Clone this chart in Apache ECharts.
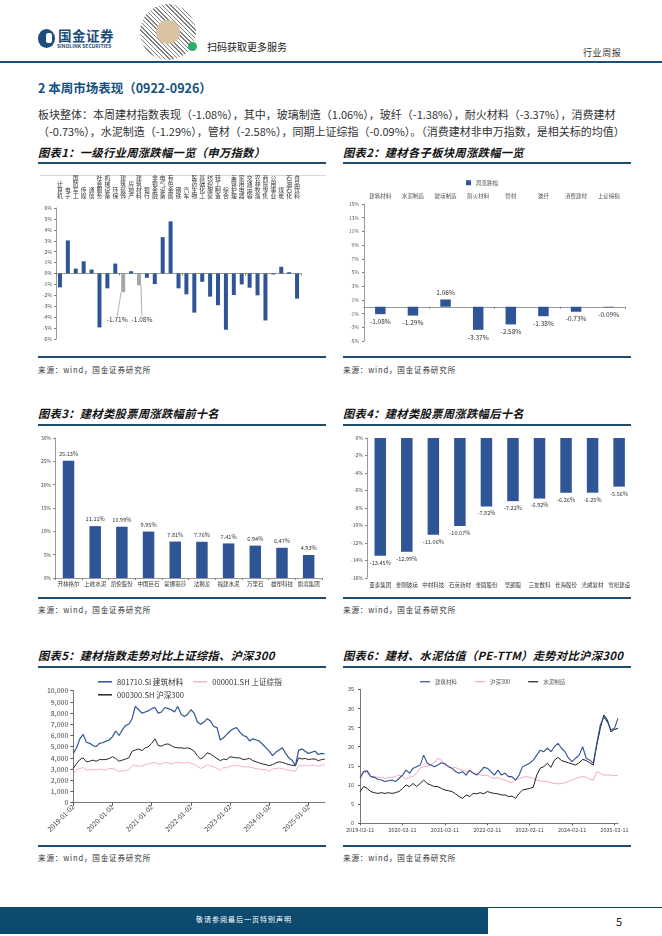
<!DOCTYPE html>
<html><head><meta charset="utf-8">
<script src="https://cdn.jsdelivr.net/npm/echarts@6.0.0/dist/echarts.min.js"></script>
<style>
body{margin:0;width:662px;height:936px;position:relative;background:#fff;font-family:"Noto Sans CJK SC","Noto Sans",sans-serif;overflow:hidden;color:#333}
.a{position:absolute;white-space:nowrap}
.rule{position:absolute;height:1.5px;background:#1d4e6f}
.ttl{position:absolute;white-space:nowrap;font-size:11.3px;font-weight:bold;font-style:italic;color:#111;letter-spacing:0.3px}
.src{position:absolute;white-space:nowrap;font-size:7.6px;color:#333;letter-spacing:0.8px}
.ch{position:absolute}
</style></head><body>
<!-- header -->
<div class="a" style="left:38px;top:29px;width:17px;height:19px;border-radius:50%;background:#1d4e7a"></div>
<div class="a" style="left:46px;top:33px;width:6px;height:10px;border-radius:2px;background:#fff"></div>
<div class="a" style="left:58px;top:25px;font-size:13.5px;font-weight:bold;color:#1d4e7a;letter-spacing:0.5px">国金证券</div>
<div class="a" style="left:57px;top:42px;font-size:5px;font-weight:bold;color:#1d4e7a">SINOLINK SECURITIES</div>
<div class="a" style="left:140px;top:4px;width:56px;height:56px;border-radius:50%;background:repeating-linear-gradient(45deg,#555 0 1px,#fff 1px 3px),#fff;opacity:0.75"></div>
<div class="a" style="left:156px;top:20px;width:24px;height:24px;border-radius:50%;background:#d9c3a0"></div>
<div class="a" style="left:188px;top:42px;width:9px;height:9px;border-radius:50%;background:#2aae67"></div>
<div class="a" style="left:207px;top:39px;font-size:10px;color:#222">扫码获取更多服务</div>
<div class="a" style="left:583px;top:46px;font-size:9px;color:#333;letter-spacing:0.6px">行业周报</div>
<div class="a" style="left:0;top:61px;width:662px;height:2px;background:#1d4e6f"></div>

<div class="a" style="left:38px;top:78px;font-size:12.5px;font-weight:bold;color:#16507e">2 本周市场表现（0922-0926）</div>
<div class="a" style="left:38px;top:106px;font-size:11px;color:#333">板块整体：本周建材指数表现（-1.08%），其中，玻璃制造（1.06%），玻纤（-1.38%），耐火材料（-3.37%），消费建材</div>
<div class="a" style="left:38px;top:123px;font-size:11px;color:#333">（-0.73%），水泥制造（-1.29%），管材（-2.58%），同期上证综指（-0.09%）。（消费建材非申万指数，是相关标的均值）</div>

<div class="ttl" style="left:38px;top:144px">图表1：一级行业周涨跌幅一览（申万指数）</div>
<div class="ttl" style="left:343px;top:144px">图表2：建材各子板块周涨跌幅一览</div>
<div class="rule" style="left:38px;top:162px;width:288px"></div>
<div class="rule" style="left:343px;top:162px;width:288px"></div>
<div class="a" style="left:40px;top:175px;width:286px;height:1px;background:#d8d8d8"></div>
<div id="c1" class="ch" style="left:38px;top:170px;width:290px;height:182px"></div>
<div id="c2" class="ch" style="left:343px;top:170px;width:290px;height:182px"></div>
<div class="rule" style="left:38px;top:356px;width:288px"></div>
<div class="rule" style="left:343px;top:356px;width:288px"></div>
<div class="src" style="left:38px;top:364px">来源：wind，国金证券研究所</div>
<div class="src" style="left:343px;top:364px">来源：wind，国金证券研究所</div>

<div class="ttl" style="left:38px;top:405px">图表3：建材类股票周涨跌幅前十名</div>
<div class="ttl" style="left:343px;top:405px">图表4：建材类股票周涨跌幅后十名</div>
<div class="rule" style="left:38px;top:424px;width:288px"></div>
<div class="rule" style="left:343px;top:424px;width:288px"></div>
<div id="c3" class="ch" style="left:38px;top:428px;width:290px;height:168px"></div>
<div id="c4" class="ch" style="left:343px;top:428px;width:290px;height:168px"></div>
<div class="rule" style="left:38px;top:597px;width:288px"></div>
<div class="rule" style="left:343px;top:597px;width:288px"></div>
<div class="src" style="left:38px;top:604px">来源：wind，国金证券研究所</div>
<div class="src" style="left:343px;top:604px">来源：wind，国金证券研究所</div>

<div class="ttl" style="left:38px;top:647px">图表5：建材指数走势对比上证综指、沪深300</div>
<div class="ttl" style="left:343px;top:647px">图表6：建材、水泥估值（PE-TTM）走势对比沪深300</div>
<div class="rule" style="left:38px;top:666px;width:288px"></div>
<div class="rule" style="left:343px;top:666px;width:288px"></div>
<div id="c5" class="ch" style="left:38px;top:670px;width:290px;height:174px"></div>
<div id="c6" class="ch" style="left:343px;top:670px;width:290px;height:174px"></div>
<div class="rule" style="left:38px;top:845px;width:288px"></div>
<div class="rule" style="left:343px;top:845px;width:288px"></div>
<div class="src" style="left:38px;top:852px">来源：wind，国金证券研究所</div>
<div class="src" style="left:343px;top:852px">来源：wind，国金证券研究所</div>

<!-- footer -->
<div class="a" style="left:0;top:907px;width:488px;height:27px;background:#0e4a6e"></div>
<div class="a" style="left:488px;top:907px;width:174px;height:1px;background:#0e4a6e"></div>
<div class="a" style="left:0;top:914px;width:488px;text-align:center;font-size:7px;color:#fff;letter-spacing:1px">敬请参阅最后一页特别声明</div>
<div class="a" style="left:616px;top:913px;font-size:11px;color:#222">5</div>

<script>
// ---------- DATA ----------
const industryNames = ['计算机','电子','国防军工','传媒','通信','社会服务','机械设备','环保','建筑装饰','房地产','建筑材料','银行','非银金融','电气设备','有色金属','钢铁','汽车','医药生物','基础化工','纺织服装','轻工制造','综合','美容护理','家用电器','交通运输','农林牧渔','商贸零售','公用事业','煤炭','石油石化','食品饮料'];
const industryChg = [-1.27,3.03,0.45,1.12,0.36,-4.94,-1.36,0.91,-1.71,0.21,-1.08,-0.39,-0.97,3.33,4.78,-1.36,-1.91,-3.58,-0.76,-2.12,-2.91,-5.15,-1.97,-1.00,-1.30,-2.00,-4.30,-0.09,0.61,0.12,-2.30];
const highlightIndustries = ['建筑装饰','建筑材料'];

const subSectors = ['建筑材料','水泥制造','玻璃制造','耐火材料','管材','玻纤','消费建材','上证综指'];
const subSectorChg = [-1.08,-1.29,1.06,-3.37,-2.58,-1.38,-0.73,-0.09];
const subSectorTicks = [-5,-3,-1,1,3,5,7,9,11,13,15];

const topStocks = ['开林格尔','上峰水泥','凯伦股份','中国巨石','蒙娜丽莎','法狮龙','福建水泥','万里石','雄塑科技','旗滨集团'];
const topChg = [25.13,11.11,10.99,9.95,7.81,7.76,7.41,6.94,6.47,4.93];

const bottomStocks = ['亚泰集团','金刚玻璃','中材科技','石英新材','金圆股份','坚朗股','三友数科','长海股份','光威复材','雪松建设'];
const bottomChg = [-13.45,-12.99,-11.06,-10.07,-7.82,-7.22,-6.92,-6.26,-6.25,-5.56];

// chart 5 : monthly 2019-01 .. 2025-06
const idxDates = [];
for (let y = 2019; y <= 2025; y++) for (let m = 1; m <= 12; m++) { if (y === 2025 && m > 6) break; idxDates.push(y + '-' + String(m).padStart(2,'0') + '-02'); }
const jcIndex = [4400,4900,5700,6100,5400,5300,5100,5000,5300,5350,5500,5600,5900,6400,6000,6500,6900,7000,7500,8600,8300,8000,8100,8200,8400,8500,8000,8100,8500,8400,8300,8100,8600,7900,7700,7900,8300,8000,7200,7000,7200,7500,7300,6800,6700,5600,5800,6100,6400,6600,6700,6300,6000,5900,5500,5700,5600,5500,5200,4900,4600,4200,4500,4700,4900,4400,4000,3800,3300,4700,4800,4600,4400,4500,4600,4300,4400,4350];
const szIndex = [2550,2950,3050,3150,2900,2950,2950,2900,3000,2950,2900,3050,3050,2950,2750,2850,2850,2950,3300,3350,3250,3300,3400,3450,3550,3600,3450,3450,3600,3550,3450,3550,3600,3550,3550,3600,3500,3450,3250,3050,3200,3400,3250,3200,3050,2900,3150,3100,3250,3300,3300,3300,3200,3200,3200,3100,3050,3000,2950,2950,2800,3000,3050,3100,3050,2950,2900,2850,2800,3300,3300,3350,3250,3350,3350,3250,3350,3400];
const hs300Index = [3050,3500,3850,4000,3650,3700,3800,3700,3850,3850,3850,3950,4100,3950,3700,3800,3900,4000,4600,4700,4800,4650,4900,5000,5300,5700,5100,5050,5200,5250,5100,4950,4900,4900,4850,4900,4800,4600,4200,3900,4100,4450,4350,4150,3950,3750,3900,3850,4100,4050,4000,4000,3850,3900,3950,3750,3650,3550,3450,3400,3300,3400,3550,3650,3600,3500,3400,3350,3300,4000,3900,3950,3850,3900,3900,3750,3850,3900];

// chart 6 : monthly 2019-02 .. 2025-03
const peDates = [];
for (let y = 2019; y <= 2025; y++) for (let m = 1; m <= 12; m++) { if (y === 2019 && m < 2) continue; if (y === 2025 && m > 3) break; peDates.push(y + '-' + String(m).padStart(2,'0') + '-11'); }
const peJc = [11.8,13.5,13.7,12.2,12.0,11.5,11.3,10.9,11.1,11.3,10.9,11.7,12.6,13.9,13.1,14.4,14.8,15.2,17.8,15.7,15.2,14.8,15.2,15.8,15.5,14.8,14.4,13.5,13.1,13.5,12.6,13.9,13.1,12.6,13.5,14.6,14.4,13.5,12.6,13.9,12.6,13.1,12.2,12.2,11.3,12.6,14.8,15.2,15.7,16.5,17.8,19.1,18.7,19.6,18.7,20.0,20.9,19.6,18.7,17.0,16.1,17.0,17.8,20.0,17.0,16.5,15.7,20.9,25.7,27.8,26.5,24.4,24.8,27.4];
const peHs300 = [12.0,13.5,13.1,12.2,12.2,12.0,12.0,11.7,11.9,12.0,12.2,12.6,12.3,11.5,12.0,12.3,13.1,14.4,14.8,15.0,15.2,15.8,17.0,16.5,15.5,15.0,14.4,14.6,14.1,13.9,13.5,13.5,13.2,13.1,12.6,12.4,12.6,12.0,11.7,12.0,11.5,11.3,10.9,10.6,11.3,11.7,12.0,12.2,12.0,11.7,11.3,11.1,10.9,10.9,10.6,10.4,10.3,10.4,10.6,10.9,11.3,11.7,12.0,12.2,12.0,11.5,11.3,13.5,13.1,12.6,12.6,12.6,12.4,12.6];
const peCement = [8.3,9.6,9.1,8.3,8.0,7.8,8.0,7.8,8.0,7.8,8.0,8.3,9.1,10.0,9.6,10.4,9.6,10.4,11.3,10.4,10.0,9.6,9.6,9.1,8.7,8.5,8.3,7.7,7.0,6.5,7.4,7.0,7.8,7.7,8.0,7.7,8.3,8.0,7.8,7.7,7.4,7.4,7.0,7.1,6.5,7.8,8.7,8.9,9.1,9.4,12.6,14.4,14.8,15.7,14.6,16.5,17.2,16.4,16.1,15.8,15.5,15.2,15.8,16.7,16.4,15.8,15.2,20.5,24.8,28.3,27.0,23.9,24.5,24.8];

// ---------- CHARTS ----------
const FF = '"Noto Sans CJK SC","Noto Sans",sans-serif';
const BLUE = '#2f5597';
const AX = '#7f7f7f';
function mk(id){ return echarts.init(document.getElementById(id), null, {renderer:'canvas'}); }

// Chart 1
mk('c1').setOption({
  animation:false, textStyle:{fontFamily:FF},
  grid:{left:18,top:38,width:245,height:131},
  xAxis:[
    {type:'category',data:industryNames,axisLine:{onZero:true,lineStyle:{color:AX,width:0.8}},axisTick:{show:true,length:2,lineStyle:{color:AX}},axisLabel:{show:false}},
    {type:'category',data:industryNames,position:'top',axisLine:{show:false},axisTick:{show:false},
     axisLabel:{interval:0,fontSize:5.8,lineHeight:6.2,color:'#333',margin:9,formatter:v=>v.split('').join('\n')}}
  ],
  yAxis:{type:'value',min:-6,max:6,interval:1,axisLine:{show:true,lineStyle:{color:AX,width:0.8}},axisTick:{show:true,length:2,lineStyle:{color:AX}},
    splitLine:{show:false},axisLabel:{fontSize:5,color:'#444',margin:4,formatter:'{value}%'}},
  series:[{type:'bar',barWidth:4,
    data:industryChg.map((v,i)=>{
      const hl = highlightIndustries.includes(industryNames[i]);
      return hl ? {value:v,itemStyle:{color:'#a6a6a6'},label:{show:true,position:'bottom',formatter:p=>p.value.toFixed(2)+'%'}} : {value:v,itemStyle:{color:BLUE}};
    }),
    label:{show:false,fontSize:6.5,color:'#333',fontFamily:FF},
    labelLine:{show:true,lineStyle:{color:'#8c8c8c',width:0.7}},
    labelLayout:function(p){
      if(industryNames[p.dataIndex]==='建筑装饰') return {dx:-6,dy:19};
      if(industryNames[p.dataIndex]==='建筑材料') return {dx:3,dy:26};
      return {};
    }
  }]
});

// Chart 2
mk('c2').setOption({
  animation:false, textStyle:{fontFamily:FF},
  legend:{top:10,left:123,padding:0,icon:'rect',itemWidth:5,itemHeight:5,itemGap:4,textStyle:{fontSize:5.5,color:'#555'},data:['周涨跌幅']},
  grid:{left:21,top:34,width:261,height:137},
  xAxis:[
    {type:'category',data:subSectors,axisLine:{onZero:true,lineStyle:{color:AX,width:0.8}},axisTick:{show:true,length:2,lineStyle:{color:AX}},axisLabel:{show:false}},
    {type:'category',data:subSectors,position:'top',axisLine:{show:false},axisTick:{show:false},axisLabel:{interval:0,fontSize:5.5,color:'#555',margin:5}}
  ],
  yAxis:{type:'value',min:-5,max:15,interval:2,axisLine:{show:true,lineStyle:{color:AX,width:0.8}},
    axisTick:{show:true,length:2,customValues:subSectorTicks,lineStyle:{color:AX}},
    splitLine:{show:false},axisLabel:{fontSize:5,color:'#555',margin:5,customValues:subSectorTicks,formatter:'{value}%'}},
  series:[{name:'周涨跌幅',type:'bar',barWidth:10.5,itemStyle:{color:BLUE},
    data:subSectorChg.map(v=>({value:v,label:{position:v>=0?'top':'bottom'}})),
    label:{show:true,fontSize:6.5,color:'#333',distance:4,formatter:p=>p.value.toFixed(2)+'%'}}]
});

// Chart 3
mk('c3').setOption({
  animation:false, textStyle:{fontFamily:FF},
  grid:{left:16,top:10,width:268,height:140},
  xAxis:{type:'category',data:topStocks,axisLine:{lineStyle:{color:AX,width:0.8}},axisTick:{show:true,length:2,lineStyle:{color:AX}},
    axisLabel:{interval:0,fontSize:5.5,color:'#333',margin:3}},
  yAxis:{type:'value',min:0,max:30,interval:5,axisLine:{show:true,lineStyle:{color:AX,width:0.8}},axisTick:{show:true,length:2,lineStyle:{color:AX}},
    splitLine:{show:false},axisLabel:{fontSize:5,color:'#444',margin:4,formatter:'{value}%'}},
  series:[{type:'bar',barWidth:11.5,itemStyle:{color:BLUE},data:topChg,
    label:{show:true,position:'top',fontSize:5.6,color:'#333',distance:4,formatter:p=>p.value.toFixed(2)+'%'}}]
});

// Chart 4
mk('c4').setOption({
  animation:false, textStyle:{fontFamily:FF},
  grid:{left:24,top:10,width:268,height:140},
  xAxis:{type:'category',data:bottomStocks,position:'bottom',axisLine:{show:false,onZero:false},axisTick:{show:false},
    axisLabel:{interval:0,fontSize:5.5,color:'#333',margin:4}},
  yAxis:{type:'value',min:-16,max:0,interval:2,axisLine:{show:true,lineStyle:{color:AX,width:0.8}},axisTick:{show:true,length:2,lineStyle:{color:AX}},
    splitLine:{show:false},axisLabel:{fontSize:5,color:'#444',margin:4,formatter:'{value}%'}},
  series:[{type:'bar',barWidth:11.5,itemStyle:{color:BLUE},data:bottomChg,
    label:{show:true,position:'bottom',fontSize:5.6,color:'#333',distance:4,formatter:p=>p.value.toFixed(2)+'%'}}]
});

// Chart 5
mk('c5').setOption({
  animation:false, textStyle:{fontFamily:FF},
  legend:[
    {top:8,left:60,padding:0,icon:'rect',itemWidth:14,itemHeight:1.5,itemGap:10,textStyle:{fontSize:7.6,color:'#333'},data:['801710.SI 建筑材料','000001.SH 上证综指']},
    {top:21,left:60,padding:0,icon:'rect',itemWidth:14,itemHeight:1.5,textStyle:{fontSize:7.6,color:'#333'},data:['000300.SH 沪深300']}
  ],
  grid:{left:35.3,top:20.7,width:251.5,height:112},
  xAxis:{type:'category',data:idxDates,boundaryGap:false,axisLine:{lineStyle:{color:'#555',width:0.8}},
    axisTick:{show:true,interval:11,length:3,lineStyle:{color:'#555'}},
    axisLabel:{interval:11,rotate:45,fontSize:6.8,color:'#444',margin:3}},
  yAxis:{type:'value',min:0,max:10000,interval:1000,axisLine:{show:true,lineStyle:{color:'#555',width:0.8}},axisTick:{show:true,length:3,lineStyle:{color:'#555'}},
    splitLine:{show:false},axisLabel:{fontSize:7,color:'#444',margin:5}},
  series:[
    {name:'000001.SH 上证综指',type:'line',data:szIndex,showSymbol:false,lineStyle:{width:1,color:'#f4b3c0'},itemStyle:{color:'#f4b3c0'}},
    {name:'000300.SH 沪深300',type:'line',data:hs300Index,showSymbol:false,lineStyle:{width:1,color:'#262626'},itemStyle:{color:'#262626'}},
    {name:'801710.SI 建筑材料',type:'line',data:jcIndex,showSymbol:false,lineStyle:{width:1.2,color:'#2f5597'},itemStyle:{color:'#2f5597'}}
  ]
});

// Chart 6
mk('c6').setOption({
  animation:false, textStyle:{fontFamily:FF},
  legend:{top:9,left:77,padding:0,icon:'rect',itemWidth:10,itemHeight:1.2,itemGap:18,textStyle:{fontSize:5.5,color:'#555'},data:['建筑材料','沪深300','水泥制造']},
  grid:{left:16,top:19.3,width:259,height:134},
  xAxis:{type:'category',data:peDates,boundaryGap:false,axisLine:{lineStyle:{color:'#555',width:0.8}},
    axisTick:{show:true,interval:11,length:2,lineStyle:{color:'#555'}},
    axisLabel:{interval:11,fontSize:5.5,color:'#444',margin:4}},
  yAxis:{type:'value',min:0,max:35,interval:5,axisLine:{show:true,lineStyle:{color:'#555',width:0.8}},axisTick:{show:true,length:2,lineStyle:{color:'#555'}},
    splitLine:{show:false},axisLabel:{fontSize:5.5,color:'#444',margin:6}},
  series:[
    {name:'沪深300',type:'line',data:peHs300,showSymbol:false,lineStyle:{width:1,color:'#f2a9b8'},itemStyle:{color:'#f2a9b8'}},
    {name:'水泥制造',type:'line',data:peCement,showSymbol:false,lineStyle:{width:1,color:'#1f1f1f'},itemStyle:{color:'#1f1f1f'}},
    {name:'建筑材料',type:'line',data:peJc,showSymbol:false,lineStyle:{width:1.1,color:'#2f4f8f'},itemStyle:{color:'#2f4f8f'}}
  ]
});
</script>
</body></html>
